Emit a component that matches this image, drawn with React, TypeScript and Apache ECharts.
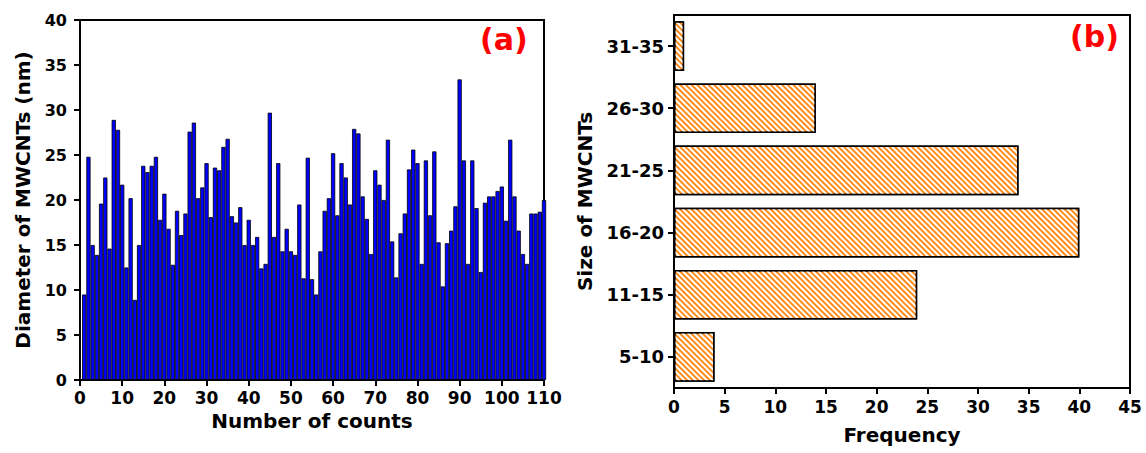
import React, { useEffect, useRef } from "react";
import * as echarts from "echarts";

const diameters = [
  9.5, 24.8, 15.0, 13.9, 19.6, 22.5, 14.6, 28.9, 27.8, 21.7,
  12.5, 20.2, 8.9, 15.0, 23.8, 23.1, 23.8, 24.8, 17.8, 20.7,
  16.8, 12.8, 18.8, 16.1, 18.5, 27.6, 28.6, 20.2, 21.4, 24.1,
  18.1, 23.6, 23.3, 25.9, 26.8, 18.2, 17.5, 19.2, 15.0, 17.8,
  15.0, 15.9, 12.4, 12.9, 29.7, 15.9, 24.1, 14.3, 16.8, 14.3,
  13.9, 19.5, 11.3, 24.7, 11.2, 9.5, 14.3, 18.8, 20.2, 25.2,
  18.3, 24.1, 22.5, 19.5, 27.9, 27.4, 20.4, 17.9, 14.0, 23.3,
  21.7, 20.0, 26.7, 15.4, 11.4, 16.3, 18.5, 23.4, 25.6, 24.1,
  12.9, 24.4, 18.3, 25.4, 15.3, 10.4, 15.2, 16.6, 19.3, 33.4,
  24.4, 12.9, 24.4, 19.1, 12.0, 19.7, 20.4, 20.4, 21.0, 21.5,
  17.7, 26.7, 20.4, 16.6, 14.0, 12.9, 18.5, 18.5, 18.7, 20.0,
];

const sizeRanges = ["5-10", "11-15", "16-20", "21-25", "26-30", "31-35"];
const frequencies = [4, 24, 40, 34, 14, 1];

const FONT = "DejaVu Sans";

export default function App() {
  const ref = useRef<HTMLDivElement>(null);
  useEffect(() => {
    document.body.style.margin = "0";
    const chart = echarts.init(ref.current!, null, { renderer: "svg" });
    const axisLine = { show: true, onZero: false, lineStyle: { color: "#000", width: 2 } };
    const axisTick = { show: true, length: 6, lineStyle: { color: "#000", width: 2 } };
    const label = (size: number, margin: number) => ({
      color: "#000",
      fontFamily: FONT,
      fontWeight: "bold",
      fontSize: size,
      margin,
    });
    const nameStyle = { color: "#000", fontFamily: FONT, fontWeight: "bold", fontSize: 20 };
    chart.setOption({
      animation: false,
      backgroundColor: "#fff",
      grid: [
        { left: 80, top: 20, width: 464, height: 360, show: true, borderColor: "#000", borderWidth: 2 },
        { left: 674, top: 15, width: 456, height: 373, show: true, borderColor: "#000", borderWidth: 2 },
      ],
      xAxis: [
        {
          gridIndex: 0, type: "value", min: 0, max: 110, interval: 10,
          splitLine: { show: false }, axisLine, axisTick, axisLabel: label(17, 9),
          name: "Number of counts", nameLocation: "middle", nameGap: 25, nameTextStyle: nameStyle,
        },
        {
          gridIndex: 1, type: "value", min: 0, max: 45, interval: 5,
          splitLine: { show: false }, axisLine, axisTick, axisLabel: label(17, 10),
          name: "Frequency", nameLocation: "middle", nameGap: 37, nameTextStyle: nameStyle,
        },
      ],
      yAxis: [
        {
          gridIndex: 0, type: "value", min: 0, max: 40, interval: 5,
          splitLine: { show: false }, axisLine, axisTick, axisLabel: label(16, 13),
          name: "Diameter of MWCNTs (nm)", nameLocation: "middle", nameGap: 47, nameTextStyle: nameStyle,
        },
        {
          gridIndex: 1, type: "category", data: sizeRanges,
          axisLine, axisTick: { ...axisTick, alignWithLabel: true }, axisLabel: label(18, 10),
          name: "Size of MWCNTs", nameLocation: "middle", nameGap: 79, nameTextStyle: nameStyle,
        },
      ],
      series: [
        {
          type: "bar", xAxisIndex: 0, yAxisIndex: 0,
          data: diameters.map((v, i) => [i + 1, v]),
          barWidth: 4.22, clip: true,
          itemStyle: { color: "#0000FF", borderColor: "#000", borderWidth: 0.8 },
        },
        {
          type: "bar", xAxisIndex: 1, yAxisIndex: 1,
          data: frequencies, barWidth: "80%",
          itemStyle: {
            color: "#FF8C1A", borderColor: "#000", borderWidth: 1.5,
            decal: {
              symbol: "rect", color: "#ffffff",
              dashArrayX: [1, 0], dashArrayY: [1.1, 1.6],
              rotation: Math.PI / 4,
            },
          },
        },
      ],
      graphic: [
        { type: "text", left: 480, top: 24, style: { text: "(a)", fill: "#FF0000", font: `bold 30px ${FONT}` } },
        { type: "text", left: 1070, top: 21, style: { text: "(b)", fill: "#FF0000", font: `bold 30px ${FONT}` } },
      ],
    });
    return () => chart.dispose();
  }, []);
  return <div ref={ref} style={{ width: 1146, height: 453 }} />;
}
